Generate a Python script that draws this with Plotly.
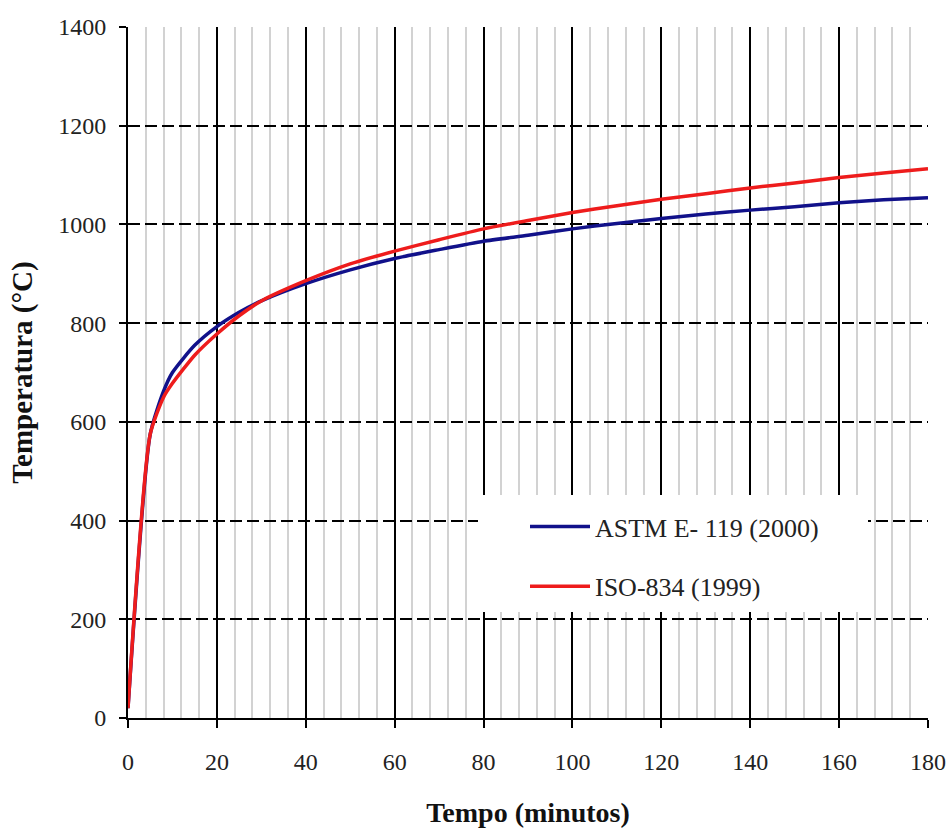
import plotly.graph_objects as go

# ---- data ----
time_astm = [0, 5, 8, 10, 15, 20, 25, 30, 40, 50, 60, 70, 80, 90, 100, 110, 120, 130, 140, 150, 160, 170, 180]
temp_astm = [20, 575, 662, 700, 755, 793, 822, 845, 880, 908, 931, 949, 966, 978, 991, 1002, 1012, 1021, 1029, 1036, 1044, 1050, 1054]

time_iso = [0, 5, 8, 10, 15, 20, 25, 30, 40, 50, 60, 70, 80, 90, 100, 110, 120, 130, 140, 150, 160, 170, 180]
temp_iso = [20, 575, 650, 678, 735, 778, 815, 845, 886, 920, 946, 969, 991, 1008, 1024, 1038, 1051, 1062, 1074, 1084, 1095, 1104, 1113]

name_astm = "ASTM E- 119 (2000)"
name_iso = "ISO-834 (1999)"

x_ticks = [0, 20, 40, 60, 80, 100, 120, 140, 160, 180]
y_ticks = [0, 200, 400, 600, 800, 1000, 1200, 1400]

x_title = "Tempo (minutos)"
y_title = "Temperatura (°C)"

# grid positions (derived from the axes)
x_major_grid = [v for v in x_ticks if 0 < v < 180]
x_minor_grid = [v for v in range(4, 180, 4) if v % 20 != 0]
y_major_grid = [v for v in y_ticks if 0 < v < 1400]

FONT = "Liberation Serif"

fig = go.Figure()
fig.add_trace(go.Scatter(
    x=time_astm, y=temp_astm, mode="lines", name=name_astm,
    line=dict(color="#11118a", width=3.5, shape="spline", smoothing=0.6),
    legendgroup="astm",
))
fig.add_trace(go.Scatter(
    x=time_iso, y=temp_iso, mode="lines", name=name_iso,
    line=dict(color="#ee1c1c", width=3.5, shape="spline", smoothing=0.6),
    legendgroup="iso", xaxis="x2", yaxis="y2",
))

tickfont = dict(family=FONT, size=24, color="#222222")

fig.update_layout(
    width=952, height=837,
    margin=dict(l=128, r=24, t=27, b=119, autoexpand=False),
    paper_bgcolor="white", plot_bgcolor="white",
    font=dict(family=FONT, color="#111111"),
    xaxis=dict(
        range=[0, 180], tickmode="array", tickvals=x_ticks,
        ticks="outside", ticklen=8, tickwidth=2, tickcolor="black",
        showline=True, linewidth=2, linecolor="black",
        showgrid=False, zeroline=False, tickfont=tickfont,
        ticklabelstandoff=13, automargin=False,
        minor=dict(tickmode="array", tickvals=x_minor_grid, showgrid=True,
                   gridcolor="#d2d2d2", gridwidth=2, ticks=""),
        title=dict(text="<b>" + x_title + "</b>", font=dict(family=FONT, size=28, color="#111111"), standoff=29),
        fixedrange=True,
    ),
    yaxis=dict(
        range=[0, 1400], tickmode="array", tickvals=y_ticks,
        ticks="outside", ticklen=7, tickwidth=2, tickcolor="black",
        showline=True, linewidth=2, linecolor="black",
        showgrid=False, zeroline=False, tickfont=tickfont,
        ticklabelstandoff=8, automargin=False,
        title=dict(text="<b>" + y_title + "</b>", font=dict(family=FONT, size=29, color="#111111"), standoff=17),
        fixedrange=True,
    ),
    xaxis2=dict(
        overlaying="x", anchor="y2", range=[0, 180], tickmode="array", tickvals=x_major_grid,
        showticklabels=False, ticks="", showline=False, zeroline=False,
        showgrid=True, gridcolor="black", gridwidth=2, fixedrange=True, automargin=False,
    ),
    yaxis2=dict(
        overlaying="y", anchor="x2", range=[0, 1400], tickmode="array", tickvals=y_major_grid,
        showticklabels=False, ticks="", showline=False, zeroline=False,
        showgrid=True, gridcolor="black", gridwidth=2, griddash="12px,5px", fixedrange=True,
        automargin=False,
    ),
    legend=dict(
        x=(525 - 128) / 800, y=(718 - 503) / 691, xanchor="left", yanchor="top",
        bgcolor="rgba(0,0,0,0)", borderwidth=0,
        font=dict(family=FONT, size=26, color="#222222"),
        itemwidth=60, tracegroupgap=23,
    ),
    shapes=[dict(
        type="rect", xref="paper", yref="paper", layer="above",
        x0=(478 - 128) / 800, x1=(868 - 128) / 800,
        y0=(718 - 612) / 691, y1=(718 - 495) / 691,
        fillcolor="white", line=dict(width=0),
    )],
    showlegend=True,
)

# remove the browser's default 8px body margin so the figure fills the window exactly
fig.write_html(
    "out.html",
    config={"displayModeBar": False},
    post_script="document.body.style.margin='0px';",
)
